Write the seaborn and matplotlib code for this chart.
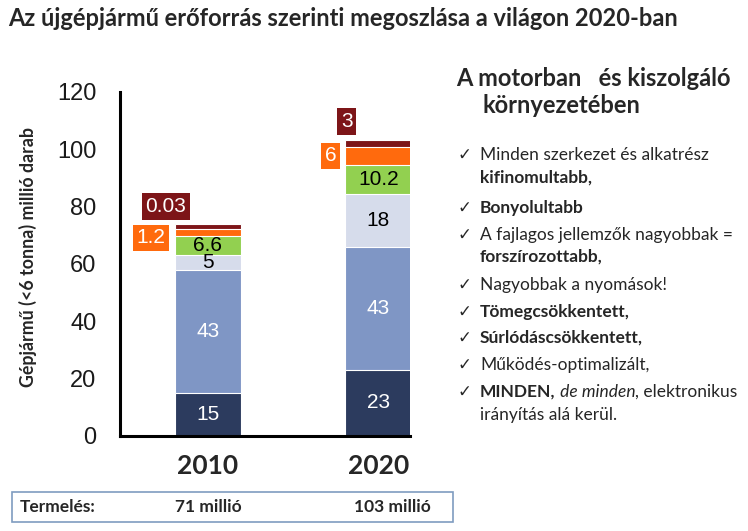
import matplotlib
matplotlib.use("Agg")
import matplotlib.pyplot as plt
import numpy as np
import pandas as pd
import seaborn as sns
from matplotlib.patches import Rectangle

# --- adatok ---------------------------------------------------------------
years = ["2010", "2020"]
segments = ["s1", "s2", "s3", "s4", "s5", "s6"]
# a rajzon látható szegmensmagasságok (millió darab), alulról felfelé
heights_2010 = [14.8, 43.0, 5.2, 6.6, 2.4, 1.7]
heights_2020 = [23.0, 43.0, 18.3, 10.2, 6.1, 2.6]
labels_2010 = ["15", "43", "5", "6.6", "1.2", "0.03"]
labels_2020 = ["23", "43", "18", "10.2", "6", "3"]
seg_colors = ["#2c3b5e", "#7f96c5", "#d6dceb", "#92d050", "#ff6a0d", "#7d1518"]
inner_text_colors = ["white", "white", "black", "black", None, None]
yticks = [0, 20, 40, 60, 80, 100, 120]
production = ["71 millió", "103 millió"]

title = "Az újgépjármű erőforrás szerinti megoszlása a világon 2020-ban"
ylabel = "Gépjármű (<6 tonna) millió darab"
side_title = ["A motorban   és kiszolgáló", "környezetében"]
# (szöveg, súly, stílus) darabok, check = van-e pipa a sor elején
bullets = [
    (True, [("Minden szerkezet és alkatrész", "normal", "normal")]),
    (False, [("kifinomultabb,", "bold", "normal")]),
    (True, [("Bonyolultabb", "bold", "normal")]),
    (True, [("A fajlagos jellemzők nagyobbak =", "normal", "normal")]),
    (False, [("forszírozottabb,", "bold", "normal")]),
    (True, [("Nagyobbak a nyomások!", "normal", "normal")]),
    (True, [("Tömegcsökkentett,", "bold", "normal")]),
    (True, [("Súrlódáscsökkentett,", "bold", "normal")]),
    (True, [("Működés-optimalizált,", "normal", "normal")]),
    (True, [("MINDEN,", "bold", "normal"), (" de minden", "normal", "italic"),
            (", elektronikus", "normal", "normal")]),
    (False, [("irányítás alá kerül.", "normal", "normal")]),
]
bullet_y = [155, 178, 208, 235, 257, 285, 312, 338, 365, 392, 415]

# --- rajz -----------------------------------------------------------------
sns.set_style("white")
plt.rcParams["font.family"] = ["Lato", "DejaVu Sans"]

W, H = 748, 531
fig = plt.figure(figsize=(W / 100, H / 100), dpi=100)


def fx(px):
    return px / W


def fy(py):
    return 1 - py / H


ax = fig.add_axes([fx(120), fy(435.7), fx(410) - fx(120), fy(91.7) - fy(435.7)])

heights = np.array([heights_2010, heights_2020])
cum = heights.cumsum(axis=1)
df = pd.DataFrame(cum, columns=segments)
df["year"] = years

# kumulált oszlopok felülről lefelé rajzolva -> halmozott oszlop
for i in reversed(range(len(segments))):
    sns.barplot(data=df, x="year", y=segments[i], color=seg_colors[i],
                width=0.39, edgecolor="white", linewidth=0.8,
                saturation=1, ax=ax)

ax.set_xlim(-0.516, 1.185)
ax.set_ylim(0, 120)
ax.set_yticks(yticks)
ax.set_ylabel("")
ax.set_xlabel("")
for side in ["top", "right"]:
    ax.spines[side].set_visible(False)
for side in ["left", "bottom"]:
    ax.spines[side].set_linewidth(2.2)
    ax.spines[side].set_color("black")
ax.tick_params(axis="y", direction="out", length=5, width=2, pad=12,
               labelsize=17, labelcolor="#1a1a1a")
for t in ax.get_yticklabels():
    t.set_fontfamily(["Liberation Sans", "DejaVu Sans"])
ax.set_xticks([0, 1])
ax.set_xticklabels(years, fontsize=19, fontweight="bold")
ax.tick_params(axis="x", which="major", length=0, pad=13)
ax.set_xticks([-0.516, 0.5], minor=True)
ax.tick_params(axis="x", which="minor", direction="out", length=6, width=2)

# címkék a szegmensekben
all_labels = [labels_2010, labels_2020]
for xi in range(2):
    bottoms = np.concatenate([[0], cum[xi][:-1]])
    for si in range(4):
        yc = bottoms[si] + heights[xi][si] / 2
        ax.text(xi, yc, all_labels[xi][si], ha="center", va="center",
                fontsize=15, color=inner_text_colors[si],
                family=["Liberation Sans", "DejaVu Sans"])

# kis szegmensek dobozos címkéi (eltolás az oszloptól)
box_offsets = {(0, 4): (-0.334, 69.0), (0, 5): (-0.246, 80.0),
               (1, 4): (-0.28, 97.6), (1, 5): (-0.185, 109.6)}
for (xi, si), (dx, yb) in box_offsets.items():
    ax.text(xi + dx, yb, all_labels[xi][si], ha="center", va="center",
            fontsize=15, color="white",
            family=["Liberation Sans", "DejaVu Sans"],
            bbox=dict(boxstyle="square,pad=0.18", fc=seg_colors[si], ec="none"))

# feliratok
fig.text(fx(8), fy(19), title, fontsize=17, fontweight="bold",
         ha="left", va="center")
fig.text(fx(28), fy(257), ylabel, rotation=90, fontsize=12.8,
         fontweight="bold", ha="center", va="center")

fig.text(fx(456), fy(78), side_title[0], fontsize=17, fontweight="bold",
         ha="left", va="center")
fig.text(fx(482), fy(105), side_title[1], fontsize=17, fontweight="bold",
         ha="left", va="center")

bsize = 12.5
for (check, pieces), yy in zip(bullets, bullet_y):
    if check:
        fig.text(fx(457), fy(yy), "\u2713", fontsize=12, ha="left",
                 va="center", family=["DejaVu Sans"])
    last = None
    for txt, wt, st in pieces:
        if last is None:
            last = fig.text(fx(480), fy(yy), txt, fontsize=bsize,
                            fontweight=wt, fontstyle=st, ha="left",
                            va="center")
        else:
            last = ax.annotate(txt, xy=(1, 0.5), xycoords=last,
                               fontsize=bsize, fontweight=wt, fontstyle=st,
                               ha="left", va="center", annotation_clip=False)

# termelés doboz
fig.patches.append(Rectangle((fx(12), fy(522)), fx(453) - fx(12),
                             fy(492) - fy(522), transform=fig.transFigure,
                             fill=False, ec="#7f9cc0", lw=1.2))
fig.text(fx(20), fy(507), "Termelés:", fontsize=12.5, fontweight="bold",
         ha="left", va="center")
for xi, txt in enumerate(production):
    fig.text(fx([208, 392][xi]), fy(507), txt, fontsize=12.5,
             fontweight="bold", ha="center", va="center")

fig.savefig("out.png", dpi=100)
